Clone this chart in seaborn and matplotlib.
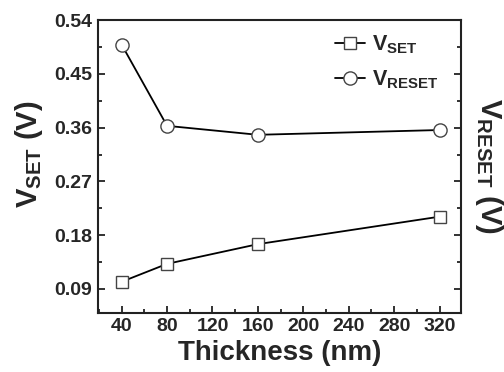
import matplotlib
matplotlib.use("Agg")
import matplotlib.pyplot as plt
import seaborn as sns
import pandas as pd
from matplotlib.ticker import MultipleLocator

thickness = [40, 80, 160, 320]
v_set = [0.102, 0.132, 0.165, 0.211]
v_reset = [0.499, 0.363, 0.348, 0.356]
x_ticks = [40, 80, 120, 160, 200, 240, 280, 320]
y_ticks = [0.09, 0.18, 0.27, 0.36, 0.45, 0.54]

sns.set_theme(style="ticks")
plt.rcParams["font.family"] = ["Liberation Sans", "DejaVu Sans"]
plt.rcParams["font.weight"] = "bold"
plt.rcParams["mathtext.fontset"] = "custom"
plt.rcParams["mathtext.rm"] = "Liberation Sans:bold"
plt.rcParams["mathtext.bf"] = "Liberation Sans:bold"
plt.rcParams["mathtext.it"] = "Liberation Sans:bold"

fig = plt.figure(figsize=(5.04, 3.72), dpi=100)
ax = fig.add_axes([0.194, 0.159, 0.721, 0.787])

df_set = pd.DataFrame({"Thickness": thickness, "V": v_set})
df_reset = pd.DataFrame({"Thickness": thickness, "V": v_reset})

common = dict(color="black", linewidth=1.3,
              markerfacecolor="white", markeredgecolor="#444444",
              markeredgewidth=1.0)
sns.lineplot(data=df_set, x="Thickness", y="V", marker="s", ax=ax,
             label=r"$\mathbf{V_{SET}}$", markersize=8, **common)
sns.lineplot(data=df_reset, x="Thickness", y="V", marker="o", ax=ax,
             label=r"$\mathbf{V_{RESET}}$", markersize=9.5, **common)

ax.set_xlim(19, 339)
ax.set_ylim(0.05, 0.54)
ax.set_xticks(x_ticks)
ax.set_yticks(y_ticks)
ax.set_yticklabels([f"{t:.2f}" for t in y_ticks])
ax.xaxis.set_minor_locator(MultipleLocator(20))
ax.yaxis.set_minor_locator(MultipleLocator(0.045))
ax.tick_params(which="both", direction="in", left=True, right=True,
               top=False, bottom=True, color="#222222", width=1.3)
ax.tick_params(which="major", length=5, labelsize=14, pad=4)
ax.tick_params(which="minor", length=3)
for lab in ax.get_xticklabels() + ax.get_yticklabels():
    lab.set_fontweight("bold")
for sp in ax.spines.values():
    sp.set_linewidth(1.5)
    sp.set_color("#222222")

ax.set_xlabel("Thickness (nm)", fontsize=20, fontweight="bold", labelpad=3)
ax.set_ylabel(r"$\mathbf{V_{SET}}$ (V)", fontsize=21, fontweight="bold")
ax.yaxis.set_label_coords(-0.146, 0.543)
fig.text(0.9385, 0.553, r"$\mathbf{V_{RESET}}$ (V)", rotation=270,
         fontsize=21, fontweight="bold", ha="left", va="center")

leg = ax.legend(loc="upper left", bbox_to_anchor=(0.653, 0.955), frameon=False,
                fontsize=15.5, handlelength=1.4, handletextpad=0.3,
                borderpad=0, borderaxespad=0, labelspacing=0.6)

fig.savefig("out.png", dpi=100)
